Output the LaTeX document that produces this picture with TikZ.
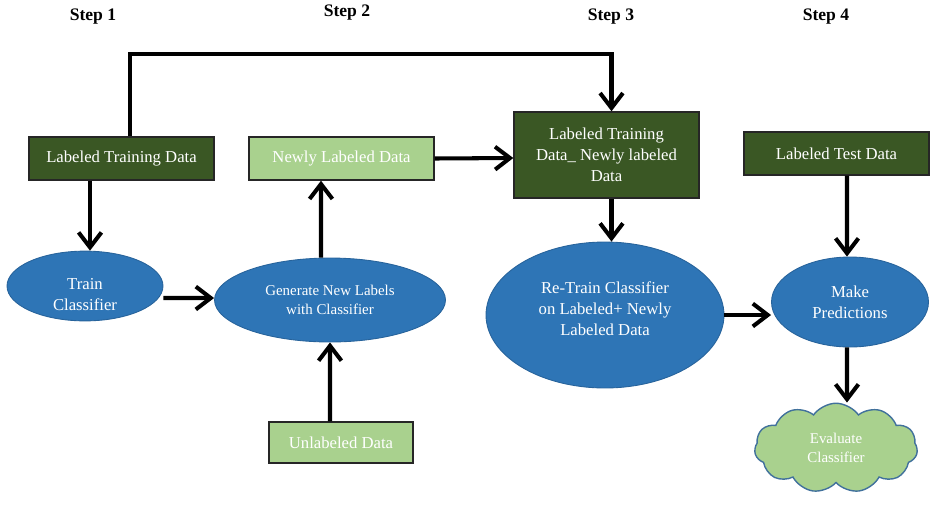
\documentclass[tikz,border=0pt]{standalone}
\usepackage{fontspec}
\setmainfont{Liberation Serif}
\usetikzlibrary{arrows.meta,shapes.geometric,shapes.symbols}
\definecolor{dkgreen}{HTML}{3A5724}
\definecolor{ltgreen}{HTML}{A9D18E}
\definecolor{ellblue}{HTML}{2E75B6}
\definecolor{cloudedge}{HTML}{41719C}

\begin{document}
\begin{tikzpicture}[x=0.02cm,y=-0.02cm,
    dbox/.style={rectangle,draw=black!85,line width=0.8pt,fill=dkgreen,text=white,
      font=\fontsize{9.5}{12}\selectfont,minimum width=3.7cm,minimum height=0.86cm,
      align=center,inner sep=1pt},
    lbox/.style={dbox,fill=ltgreen},
    ell/.style={ellipse,draw=ellblue!85!black,line width=0.5pt,fill=ellblue,text=white,
      font=\fontsize{9.5}{12}\selectfont,align=center,inner sep=0pt},
    steplbl/.style={font=\bfseries\fontsize{10}{12}\selectfont},
    arr/.style={line width=2.3pt,-{Straight Barb[length=8.5pt,width=13pt]}}]
  \useasboundingbox (0,0) rectangle (930,505);

  % step titles
  \node[steplbl] (s1) at (93,17) {Step 1};
  \node[steplbl] (s2) at (347,13) {Step 2};
  \node[steplbl] (s3) at (611,17) {Step 3};
  \node[steplbl] (s4) at (826,17) {Step 4};

  % step 1
  \node[dbox] (ltd) at (121.5,158.5) {Labeled Training Data};
  \node[ell,minimum width=3.12cm,minimum height=1.36cm] (train) at (85,286)
    {\rule{0pt}{16pt}Train\\Classifier};
  \coordinate (a1) at ([xshift=-0.63cm]ltd.south);
  \draw[arr] (a1) -- (a1 |- train.north);

  % step 2
  \node[lbox] (newly) at (341.5,158.5) {Newly Labeled Data};
  \node[ell,minimum width=4.62cm,minimum height=1.68cm,
    font=\fontsize{8.5}{11}\selectfont] (gen) at (330,300) {Generate New Labels\\with Classifier};
  \node[lbox,minimum width=2.88cm,minimum height=0.82cm] (unl) at (341,442.5) {Unlabeled Data};
  \draw[arr] ([yshift=-0.24cm]train.east) -- ([yshift=0.04cm]gen.west);
  \draw[arr] ([xshift=-0.18cm]gen.north) -- ([xshift=-0.41cm]newly.south);
  \draw[arr] ([xshift=-0.22cm]unl.north) -- (gen.south);

  % step 3
  \node[dbox,minimum height=1.72cm] (box3) at (606.5,155) {Labeled Training\\Data\_ Newly labeled\\Data};
  \node[ell,minimum width=4.76cm,minimum height=2.92cm] (retrain) at (605,315)
    {Re-Train Classifier\\on Labeled+ Newly\\Labeled Data\rule[-7pt]{0pt}{7pt}};
  \coordinate (top) at (0,54);
  \coordinate (b3n) at ([xshift=0.1cm]box3.north);
  \coordinate (b3s) at ([xshift=0.1cm]box3.south);
  \draw[arr] ([xshift=0.17cm]ltd.north) |- (top -| b3n) -- (b3n);
  \draw[arr] (newly.east) -- ([yshift=-0.06cm]box3.west);
  \draw[arr] (b3s) -- (b3s |- retrain.north);

  % step 4
  \node[dbox] (test) at (836.5,153.5) {Labeled Test Data};
  \node[ell,minimum width=3.14cm,minimum height=1.8cm] (make) at (850,302) {Make\\Predictions};
  \node[cloud,cloud puffs=11,cloud puff arc=110,draw=cloudedge,line width=0.8pt,fill=ltgreen,
    text=white,font=\fontsize{8.5}{11}\selectfont,align=center,inner sep=0pt,
    minimum width=3.26cm,minimum height=1.7cm] (cloud) at (836,448) {Evaluate\\Classifier};
  \draw[arr] (retrain.east) -- (retrain.east -| make.west);
  \draw[arr] ([xshift=0.21cm]test.south) -- ([xshift=-0.06cm]make.north);
  \draw[arr] ([xshift=-0.06cm]make.south) -- ([xshift=0.22cm]cloud.north);
\end{tikzpicture}
\end{document}
